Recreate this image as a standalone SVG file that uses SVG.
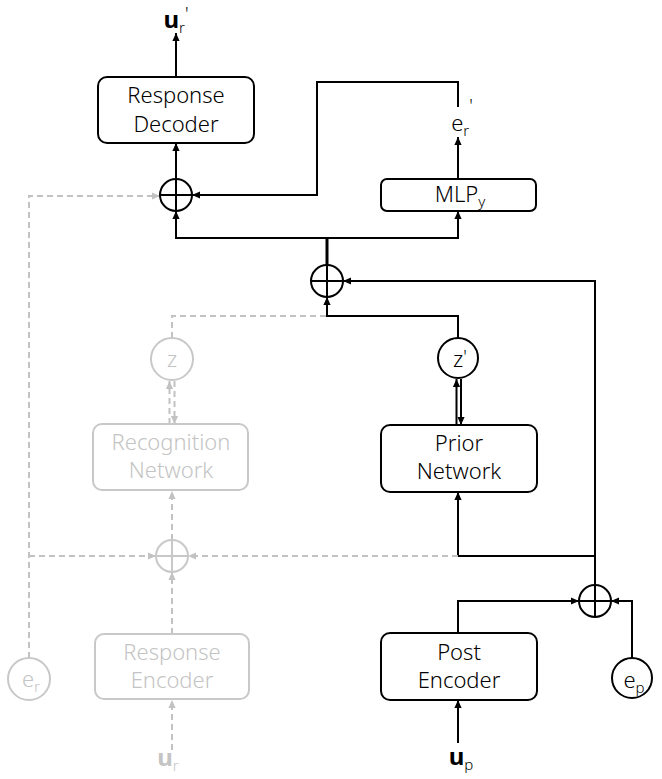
<svg xmlns="http://www.w3.org/2000/svg" width="662" height="779" viewBox="0 0 662 779">
<defs>
<marker id="ab" viewBox="0 0 10 10" refX="10" refY="5" markerWidth="8" markerHeight="8" markerUnits="userSpaceOnUse" orient="auto"><path d="M0,0.5 L10,5 L0,9.5 z" fill="#000"/></marker>
<marker id="ag" viewBox="0 0 10 10" refX="10" refY="5" markerWidth="8" markerHeight="8" markerUnits="userSpaceOnUse" orient="auto"><path d="M0,0.5 L10,5 L0,9.5 z" fill="#c2c2c2"/></marker>
</defs>
<style>
text{font-family:"Noto Sans","Liberation Sans",sans-serif;font-size:22px;font-weight:300;text-anchor:middle}
.k{fill:#000}
.g{fill:#c4c4c4}
.box{fill:none;stroke:#000;stroke-width:2}
.gbox{fill:none;stroke:#c8c8c8;stroke-width:2}
.ln{fill:none;stroke:#000;stroke-width:2}
.dl{fill:none;stroke:#c2c2c2;stroke-width:2;stroke-dasharray:6 4}
.b{font-weight:bold;font-size:24px}
.s{font-size:15px}
.p{font-size:18px}
</style>
<rect width="662" height="779" fill="#fff"/>

<g id="connectors">
<path class="ln" d="M176,77 V33" marker-end="url(#ab)"/>
<path class="ln" d="M176,179 V143" marker-end="url(#ab)"/>
<path class="ln" d="M458,107 V82 H317 V195 H192" marker-end="url(#ab)"/>
<path class="ln" d="M458,179 V137" marker-end="url(#ab)"/>
<path class="ln" d="M327,238 H176 V211" marker-end="url(#ab)"/>
<path class="ln" d="M327,238 H458 V211" marker-end="url(#ab)"/>
<path class="ln" d="M327,265 V237" style="stroke-width:3"/>
<path class="ln" d="M595,585 V281 H343" marker-end="url(#ab)"/>
<path class="ln" d="M458,338 V316 H327 V297" marker-end="url(#ab)"/>
<path class="ln" d="M456.5,425 V379" marker-end="url(#ab)"/>
<path class="ln" d="M461,379 V425" marker-end="url(#ab)"/>
<path class="ln" d="M595,556 H458 V492" marker-end="url(#ab)"/>
<path class="ln" d="M458,633 V601 H579" marker-end="url(#ab)"/>
<path class="ln" d="M632,658 V601 H611" marker-end="url(#ab)"/>
<path class="ln" d="M458,743 V700" marker-end="url(#ab)"/>
<path class="dl" d="M29,658 V196 H160" marker-end="url(#ag)"/>
<path class="dl" d="M29,556 H156" marker-end="url(#ag)"/>
<path class="dl" d="M458,556 H188" marker-end="url(#ag)"/>
<path class="dl" d="M172,634 V572" marker-end="url(#ag)"/>
<path class="dl" d="M172,540 V491" marker-end="url(#ag)"/>
<path class="dl" d="M169.5,424 V381" marker-end="url(#ag)"/>
<path class="dl" d="M174.5,381 V424" marker-end="url(#ag)"/>
<path class="dl" d="M172,338 V316 H326"/>
<path class="dl" d="M172,750 V700" marker-end="url(#ag)"/>
</g>

<g id="ur_out"><text class="k" x="176" y="28"><tspan class="b">u</tspan><tspan class="s" dy="5">r</tspan><tspan class="p" dy="-13">'</tspan></text></g>

<g id="response_decoder">
<rect class="box" x="98" y="77" width="156" height="66" rx="9"/>
<text class="k" x="176" y="103">Response</text>
<text class="k" x="176" y="132">Decoder</text>
</g>

<g id="plus1">
<circle class="box" cx="176" cy="195" r="16"/>
<path class="ln" d="M160,195 H192 M176,179 V211"/>
</g>

<g id="er_out"><text class="k" x="462" y="131">e<tspan class="s" dy="5">r</tspan><tspan class="p" dy="-24">'</tspan></text></g>

<g id="mlp">
<rect class="box" x="381" y="179" width="155" height="32" rx="6"/>
<text class="k" x="460" y="202">MLP<tspan class="s" dy="5">y</tspan></text>
</g>

<g id="plus2">
<circle class="box" cx="327" cy="281" r="16"/>
<path class="ln" d="M311,281 H343 M327,265 V297"/>
</g>

<g id="z">
<circle class="gbox" cx="172" cy="359" r="21"/>
<text class="g" x="172" y="367">z</text>
</g>

<g id="zprime">
<circle class="box" cx="458" cy="358" r="20"/>
<text class="k" x="460" y="367">z<tspan class="p" dy="-4">'</tspan></text>
</g>

<g id="recognition_network">
<rect class="gbox" x="93" y="424" width="155" height="66" rx="9"/>
<text class="g" x="171" y="450">Recognition</text>
<text class="g" x="171" y="478">Network</text>
</g>

<g id="prior_network">
<rect class="box" x="381" y="425" width="156" height="67" rx="9"/>
<text class="k" x="459" y="451">Prior</text>
<text class="k" x="459" y="479">Network</text>
</g>

<g id="plus_gray">
<circle class="gbox" cx="172" cy="556" r="16"/>
<path class="gbox" d="M156,556 H188 M172,540 V572"/>
</g>

<g id="plus3">
<circle class="box" cx="595" cy="601" r="16"/>
<path class="ln" d="M579,601 H611 M595,585 V617"/>
</g>

<g id="er">
<circle class="gbox" cx="29" cy="679" r="21"/>
<text class="g" x="31" y="687">e<tspan class="s" dy="5">r</tspan></text>
</g>

<g id="response_encoder">
<rect class="gbox" x="95" y="634" width="154" height="65" rx="9"/>
<text class="g" x="172" y="660">Response</text>
<text class="g" x="172" y="688">Encoder</text>
</g>

<g id="post_encoder">
<rect class="box" x="381" y="633" width="156" height="67" rx="9"/>
<text class="k" x="459" y="660">Post</text>
<text class="k" x="459" y="688">Encoder</text>
</g>

<g id="ep">
<circle class="box" cx="632" cy="678" r="20"/>
<text class="k" x="634" y="688">e<tspan class="s" dy="5">p</tspan></text>
</g>

<g id="up_in"><text class="k" x="461" y="765"><tspan class="b">u</tspan><tspan class="s" dy="5">p</tspan></text></g>
<g id="ur_in"><text class="g" x="168" y="766"><tspan class="b">u</tspan><tspan class="s" dy="5">r</tspan></text></g>
</svg>
